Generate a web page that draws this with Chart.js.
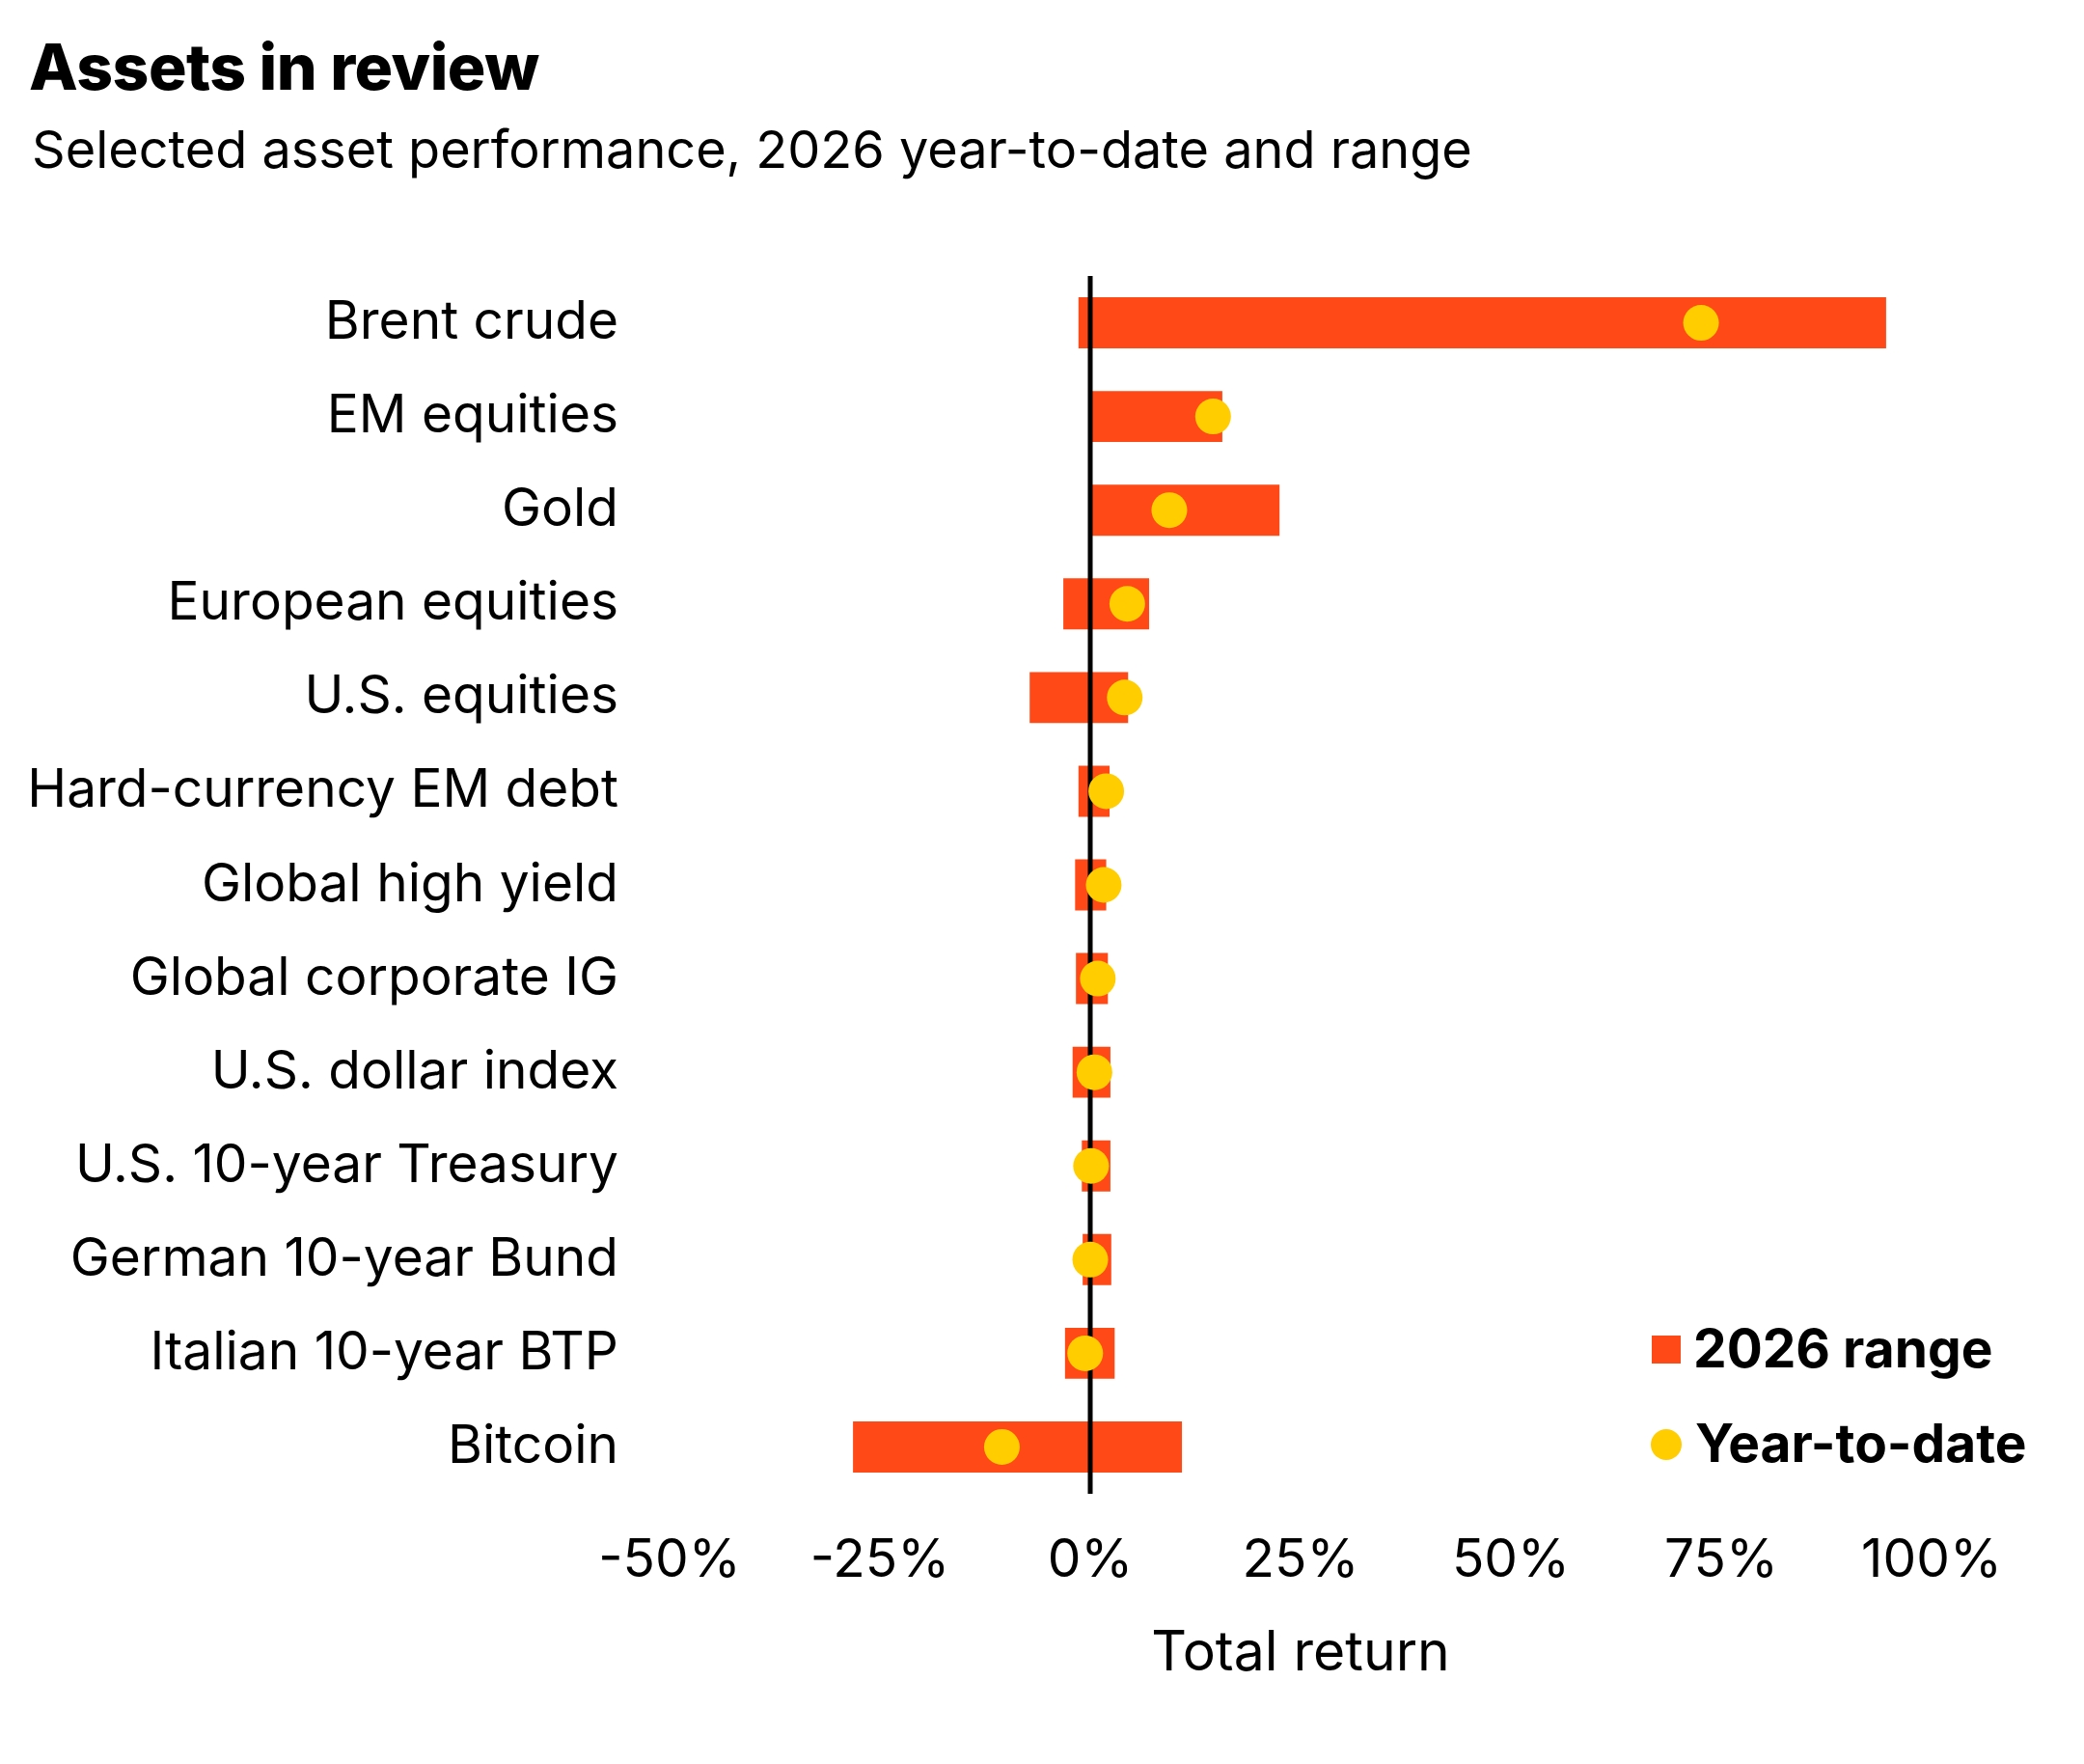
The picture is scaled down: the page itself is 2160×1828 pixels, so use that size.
<!DOCTYPE html>
<html>
<head>
<meta charset="utf-8">
<title>Assets in review</title>
<script src="https://cdn.jsdelivr.net/npm/chart.js@4.4.1/dist/chart.umd.min.js"></script>
<style>
  html, body { margin: 0; padding: 0; background: #fff; }
  body {
    width: 2160px; height: 1828px; position: relative; overflow: hidden;
    font-family: Inter, "Liberation Sans", sans-serif; color: #000;
  }
  #wrap { position: absolute; left: 0; top: 0; width: 2160px; height: 1828px; }
  .title { position: absolute; left: 30px; top: 36px; font-size: 66px; font-weight: 800; line-height: 1; letter-spacing: -0.5px; white-space: nowrap; }
  .subtitle { position: absolute; left: 33px; top: 128px; font-size: 54px; line-height: 1; white-space: nowrap; }
  .legend-text { position: absolute; font-size: 55px; font-weight: 700; line-height: 1; white-space: nowrap; }
  .swatch { position: absolute; }
</style>
</head>
<body>
<div class="title">Assets in review</div>
<div class="subtitle">Selected asset performance, 2026 year-to-date and range</div>

<div id="wrap"><canvas id="assetsChart"></canvas></div>

<div class="swatch" style="left:1712px; top:1384px; width:30px; height:29px; background:#ff4a17;"></div>
<div class="legend-text" style="left:1755px; top:1370px;">2026 range</div>
<div class="swatch" style="left:1711px; top:1481px; width:32px; height:32px; border-radius:50%; background:#ffcd00;"></div>
<div class="legend-text" style="left:1757px; top:1468px;">Year-to-date</div>

<script>
const categories = [
  "Brent crude",
  "EM equities",
  "Gold",
  "European equities",
  "U.S. equities",
  "Hard-currency EM debt",
  "Global high yield",
  "Global corporate IG",
  "U.S. dollar index",
  "U.S. 10-year Treasury",
  "German 10-year Bund",
  "Italian 10-year BTP",
  "Bitcoin"
];

// 2026 range (low / high), percent
const rangeLow  = [-1.4, 0, 0, -3.2, -7.2, -1.4, -1.8, -1.7, -2.1, -1.0, -0.9, -3.0, -28.2];
const rangeHigh = [94.6, 15.7, 22.5, 7.0, 4.5, 2.3, 1.9, 2.1, 2.4, 2.4, 2.5, 2.9, 10.9];

// year-to-date return, percent
const ytdReturn = [72.6, 14.6, 9.4, 4.4, 4.1, 1.9, 1.6, 0.9, 0.5, 0.1, 0.0, -0.6, -10.5];

const xMin = -50;
const xMax = 100;
const xStep = 25;

const RANGE_COLOR = "#ff4a17";
const YTD_COLOR = "#ffcd00";

// black zero line, drawn over the bars but under the dots
const zeroLine = {
  id: "zeroLine",
  afterDatasetDraw(chart, args) {
    if (args.meta.type !== "bar") return;
    const x = chart.scales.x.getPixelForValue(0);
    const { top, bottom } = chart.chartArea;
    const ctx = chart.ctx;
    ctx.save();
    ctx.beginPath();
    ctx.moveTo(x, top);
    ctx.lineTo(x, bottom);
    ctx.lineWidth = 5;
    ctx.strokeStyle = "#000";
    ctx.stroke();
    ctx.restore();
  }
};

const rangeData = categories.map((c, i) => [rangeLow[i], rangeHigh[i]]);

new Chart(document.getElementById("assetsChart"), {
  type: "bar",
  data: {
    labels: categories,
    datasets: [
      {
        label: "2026 range",
        data: rangeData,
        indexAxis: "y",
        backgroundColor: RANGE_COLOR,
        borderWidth: 0,
        categoryPercentage: 1,
        barPercentage: 0.545,
        order: 2
      },
      {
        type: "line",
        label: "Year-to-date",
        data: ytdReturn,
        indexAxis: "y",
        showLine: false,
        pointRadius: 18.5,
        pointHoverRadius: 18.5,
        pointBackgroundColor: YTD_COLOR,
        pointBorderWidth: 0,
        order: 1
      }
    ]
  },
  options: {
    indexAxis: "y",
    responsive: true,
    maintainAspectRatio: false,
    animation: false,
    layout: { padding: { top: 286, right: 158, bottom: 0, left: 0 } },
    plugins: {
      legend: { display: false },
      tooltip: { enabled: false }
    },
    scales: {
      x: {
        type: "linear",
        min: xMin,
        max: xMax,
        grid: { display: false, drawTicks: false },
        border: { display: false },
        ticks: {
          stepSize: xStep,
          padding: 36,
          color: "#000",
          font: { family: "Inter", size: 55 },
          callback: (v) => v + "%"
        },
        title: {
          display: true,
          text: "Total return",
          color: "#000",
          font: { family: "Inter", size: 57 },
          padding: { top: 0, bottom: 80 }
        },
        afterFit: (scale) => { scale.height = 280; }
      },
      y: {
        type: "category",
        grid: { display: false, drawTicks: false },
        border: { display: false },
        ticks: {
          padding: 53,
          color: "#000",
          font: { family: "Inter", size: 55 }
        },
        afterFit: (scale) => { scale.width = 694; }
      }
    }
  },
  plugins: [zeroLine]
});
</script>
</body>
</html>
